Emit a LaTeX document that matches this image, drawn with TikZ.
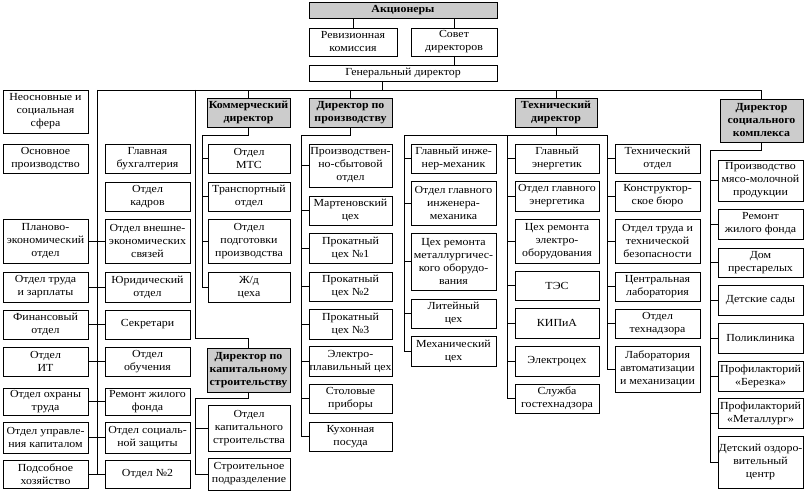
\documentclass[tikz,border=0pt]{standalone}
\usepackage{fontspec}
\setmainfont{Liberation Serif}[FakeStretch=1.1]
\definecolor{dirgray}{RGB}{204,204,204}
\tikzset{
  box/.style={draw, line width=0.6pt, inner sep=0pt, outer sep=0pt, align=center,
    font=\fontsize{10.8}{13}\selectfont},
  dirbox/.style={box, fill=dirgray, font=\fontsize{10.8}{13}\selectfont\bfseries},
  link/.style={line width=0.6pt},
}
\newcommand\obox[7][box]{\node[#1, minimum width={(#5-#3)*1pt}, minimum height={(#6-#4)*1pt}] (#2) at ({(#3+#5)/2},{(#4+#6)/2}) {#7};}
\begin{document}
\begin{tikzpicture}[x=1pt,y=-1pt]
\fill[white] (0,0) rectangle (805,492);
\useasboundingbox (0,0) rectangle (805,492);
% top
\obox[dirbox]{ak}{309}{2}{497}{18}{Акционеры}
\obox{rev}{309}{28}{397}{56}{Ревизионная\\комиссия}
\obox{sov}{411}{28}{497}{56}{Совет\\директоров}
\obox{gen}{309}{65}{497}{81}{Генеральный директор}
% directors
\obox[dirbox]{com}{207}{98}{290}{127}{Коммерческий\\директор}
\obox[dirbox]{prod}{309}{98}{392}{127}{Директор по\\производству}
\obox[dirbox]{tech}{515}{98}{597}{127}{Технический\\директор}
\obox[dirbox]{soc}{720}{99}{803}{142}{Директор\\социального\\комплекса}
\obox[dirbox]{cap}{207}{348}{290}{392}{Директор по\\капитальному\\строительству}
% left column
\obox{L1}{3}{90}{88}{133}{Неосновные и\\социальная\\сфера}
\obox{L2}{3}{144}{88}{173}{Основное\\производство}
\obox{L3}{3}{219}{88}{263}{Планово-\\экономический\\отдел}
\obox{L4}{3}{272}{88}{302}{Отдел труда\\и зарплаты}
\obox{L5}{3}{310}{88}{339}{Финансовый\\отдел}
\obox{L6}{3}{347}{88}{376}{Отдел\\ИТ}
\obox{L7}{3}{388}{88}{415}{Отдел охраны\\труда}
\obox{L8}{3}{422}{88}{453}{Отдел управле-\\ния капиталом}
\obox{L9}{3}{460}{88}{488}{Подсобное\\хозяйство}
\obox{R1}{105}{144}{190}{173}{Главная\\бухгалтерия}
\obox{R2}{105}{182}{190}{211}{Отдел\\кадров}
\obox{R3}{105}{219}{190}{263}{Отдел внешне-\\экономических\\связей}
\obox{R4}{105}{272}{190}{302}{Юридический\\отдел}
\obox{R5}{105}{310}{190}{339}{Секретари}
\obox{R6}{105}{347}{190}{376}{Отдел\\обучения}
\obox{R7}{105}{388}{190}{415}{Ремонт жилого\\фонда}
\obox{R8}{105}{422}{190}{453}{Отдел социаль-\\ной защиты}
\obox{R9}{105}{460}{190}{488}{Отдел №2}
% commercial
\obox{c1}{208}{144}{290}{173}{Отдел\\МТС}
\obox{c2}{208}{182}{290}{211}{Транспортный\\отдел}
\obox{c3}{208}{219}{290}{263}{Отдел\\подготовки\\производства}
\obox{c4}{208}{272}{290}{302}{Ж/д\\цеха}
% capital
\obox{k1}{208}{405}{290}{451}{Отдел\\капитального\\строительства}
\obox{k2}{208}{458}{290}{490}{Строительное\\подразделение}
% production
\obox{p1}{309}{144}{392}{187}{Производствен-\\но-сбытовой\\отдел}
\obox{p2}{309}{196}{392}{225}{Мартеновский\\цех}
\obox{p3}{309}{233}{392}{263}{Прокатный\\цех №1}
\obox{p4}{309}{272}{392}{301}{Прокатный\\цех №2}
\obox{p5}{309}{309}{392}{339}{Прокатный\\цех №3}
\obox{p6}{309}{346}{392}{376}{Электро-\\плавильный цех}
\obox{p7}{309}{384}{392}{413}{Столовые\\приборы}
\obox{p8}{309}{422}{392}{451}{Кухонная\\посуда}
% technical
\obox{a1}{411}{144}{496}{173}{Главный инже-\\нер-механик}
\obox{a2}{411}{181}{496}{225}{Отдел главного\\инженера-\\механика}
\obox{a3}{411}{233}{496}{290}{Цех ремонта\\металлургичес-\\кого оборудо-\\вания}
\obox{a4}{411}{299}{496}{328}{Литейный\\цех}
\obox{a5}{411}{336}{496}{366}{Механический\\цех}
\obox{b1}{515}{144}{599}{173}{Главный\\энергетик}
\obox{b2}{515}{181}{599}{211}{Отдел главного\\энергетика}
\obox{b3}{515}{219}{599}{263}{Цех ремонта\\электро-\\оборудования}
\obox{b4}{515}{271}{599}{300}{ТЭС}
\obox{b5}{515}{308}{599}{338}{КИПиА}
\obox{b6}{515}{346}{599}{376}{Электроцех}
\obox{b7}{515}{384}{599}{413}{Служба\\гостехнадзора}
\obox{t1}{615}{144}{700}{173}{Технический\\отдел}
\obox{t2}{615}{181}{700}{211}{Конструктор-\\ское бюро}
\obox{t3}{615}{219}{700}{263}{Отдел труда и\\технической\\безопасности}
\obox{t4}{615}{272}{700}{301}{Центральная\\лаборатория}
\obox{t5}{615}{309}{700}{338}{Отдел\\технадзора}
\obox{t6}{615}{346}{700}{392}{Лаборатория\\автоматизации\\и механизации}
% social
\obox{s1}{718}{160}{803}{201}{Производство\\мясо-молочной\\продукции}
\obox{s2}{718}{209}{803}{239}{Ремонт\\жилого фонда}
\obox{s3}{718}{248}{803}{277}{Дом\\престарелых}
\obox{s4}{718}{285}{803}{315}{Детские сады}
\obox{s5}{718}{323}{803}{353}{Поликлиника}
\obox{s6}{718}{361}{803}{391}{Профилакторий\\«Березка»}
\obox{s7}{718}{398}{803}{428}{Профилакторий\\«Металлург»}
\obox{s8}{718}{436}{803}{488}{Детский оздоро-\\вительный\\центр}
% coordinates
\coordinate (mainL) at (97,90);
\coordinate (mainR) at (762,90);
\coordinate (capTop) at (195,90);
\coordinate (capK) at (195,338);
\coordinate (capB) at (195,398);
\coordinate (comB) at (202,135);
\coordinate (prodB) at (301,135);
\coordinate (tB1) at (404,135);
\coordinate (tB2) at (507,135);
\coordinate (tB3) at (607,135);
\coordinate (socB) at (710,150);
% top links
\draw[link] (rev.north) -- (rev.north |- ak.south);
\draw[link] (sov.north) -- (sov.north |- ak.south);
\draw[link] (sov.south) -- (sov.south |- gen.north);
\draw[link] ([xshift=-21pt]gen.south) -- ([xshift=-21pt]gen.south |- mainL);
\draw[link] (mainL) -- (mainR);
\foreach \d in {com,prod,tech,soc} \draw[link] (\d.north) -- (\d.north |- mainL);
% left
\draw[link] (mainL) -- (mainL |- L9.east);
\foreach \i in {3,...,9} \draw[link] (L\i.east) -- (R\i.west);
% capital
\draw[link] (capTop) -- (capK) -| (cap.north);
\draw[link] (cap.south) |- (capB) -- (capB |- k2.west);
\foreach \n in {k1,k2} \draw[link] (\n.west) -- (\n.west -| capB);
% commercial
\draw[link] (com.south) |- (comB) -- (comB |- c4.west);
\foreach \n in {c1,c2,c3,c4} \draw[link] (\n.west) -- (\n.west -| comB);
% production
\draw[link] (prod.south) |- (prodB) -- (prodB |- p8.west);
\foreach \n in {p1,p2,p3,p4,p5,p6,p7,p8} \draw[link] (\n.west) -- (\n.west -| prodB);
% technical
\draw[link] (tech.south) -- (tech.south |- tB1);
\draw[link] (tB1) -- (tB3);
\draw[link] (tB1) -- (tB1 |- a5.west);
\draw[link] (tB2) -- (tB2 |- b7.west);
\draw[link] (tB3) -- (tB3 |- t6.west);
\foreach \n in {a1,a2,a3,a4,a5} \draw[link] (\n.west) -- (\n.west -| tB1);
\foreach \n in {b1,b2,b3,b4,b5,b6,b7} \draw[link] (\n.west) -- (\n.west -| tB2);
\foreach \n in {t1,t2,t3,t4,t5,t6} \draw[link] (\n.west) -- (\n.west -| tB3);
% social
\draw[link] (soc.south) |- (socB) -- (socB |- s8.west);
\foreach \n in {s1,s2,s3,s4,s5,s6,s7,s8} \draw[link] (\n.west) -- (\n.west -| socB);
\end{tikzpicture}
\end{document}
